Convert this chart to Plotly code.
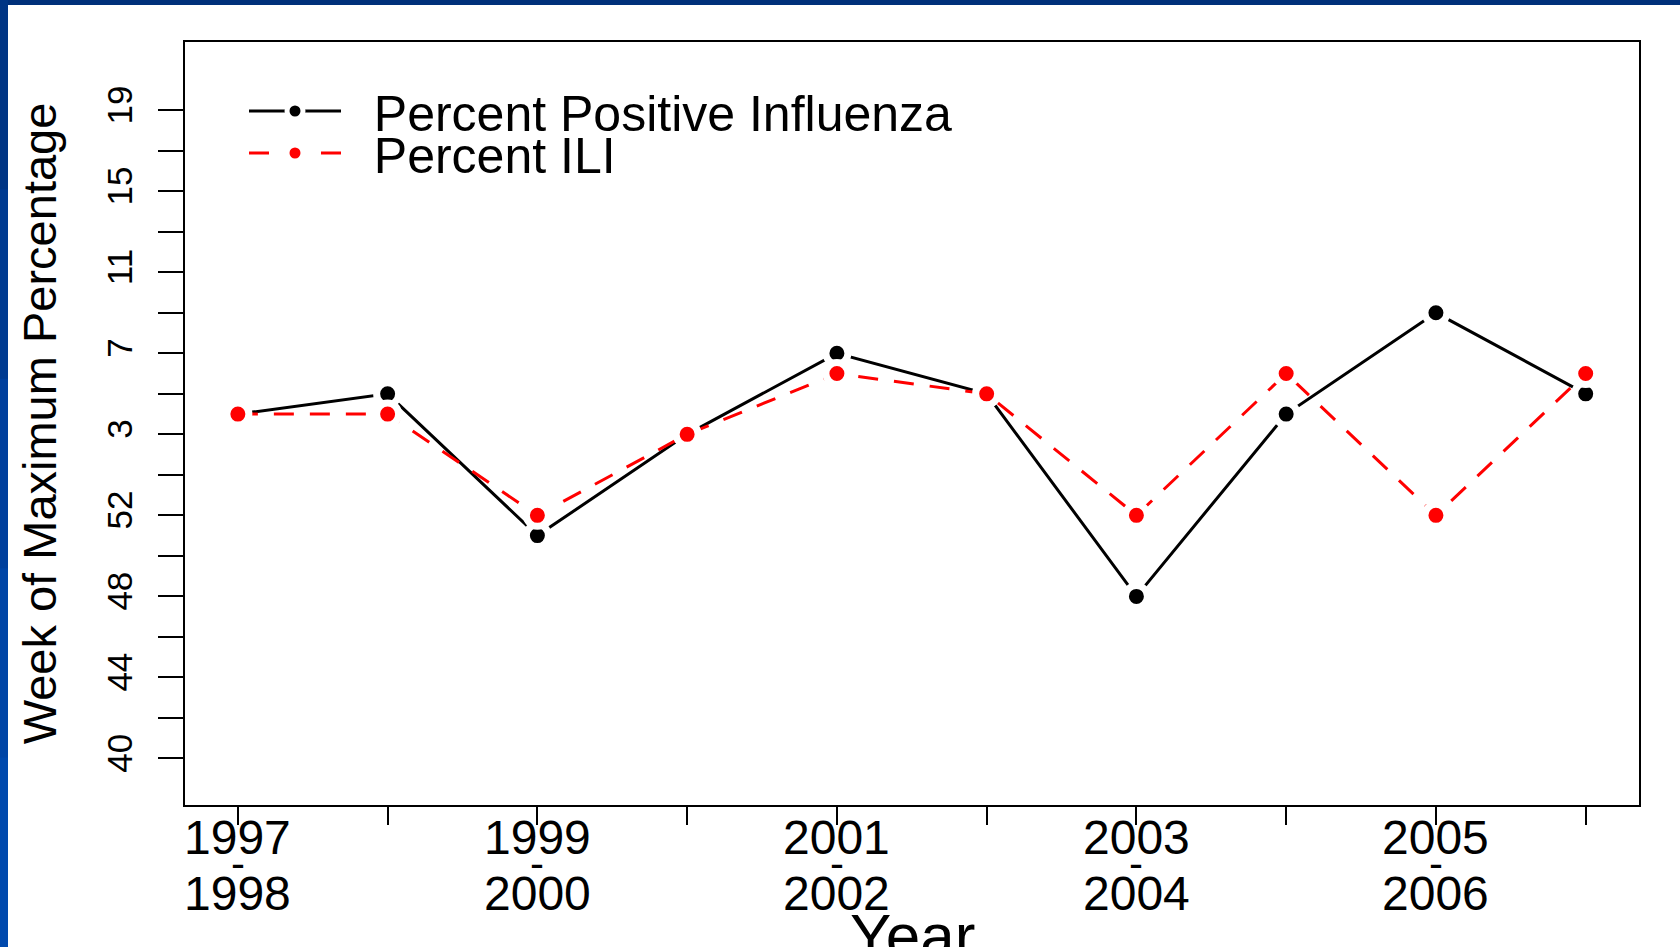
import plotly.graph_objects as go

# seasons on the x axis, week numbers on the y axis
seasons = ["1997-1998", "1998-1999", "1999-2000", "2000-2001", "2001-2002",
           "2002-2003", "2003-2004", "2004-2005", "2005-2006", "2006-2007"]
week_order = [40, 41, 42, 43, 44, 45, 46, 47, 48, 49, 50, 51, 52, 53,
              1, 2, 3, 4, 5, 6, 7, 8, 9, 10, 11, 12, 13, 14, 15, 16, 17, 18, 19]
week_labels = [40, 44, 48, 52, 3, 7, 11, 15, 19]

flu_positive = [4, 5, 51, 3, 7, 5, 48, 4, 9, 5]
ili = [4, 4, 52, 3, 6, 5, 52, 6, 52, 6]

x_labels = [("1997", "1998"), ("1999", "2000"), ("2001", "2002"),
            ("2003", "2004"), ("2005", "2006")]

W, H = 1680, 947
ML, MR, MT, MB = 185, 41, 42, 142
PW, PH = W - ML - MR, H - MT - MB

FONT = "Liberation Sans, Arial, sans-serif"
NBSP = "\u00a0"


def px_x(x):
    return (x - ML) / PW


def px_y(y):
    return (H - MB - y) / PH


fig = go.Figure()

# white marker outline leaves the small gap round each point (R type="b")
fig.add_trace(go.Scatter(
    x=seasons, y=[str(w) for w in flu_positive],
    mode="lines+markers", name=NBSP * 2 + "Percent Positive Influenza",
    line=dict(color="black", width=3),
    marker=dict(color="black", size=22, line=dict(color="white", width=7)),
    legend="legend",
))
fig.add_trace(go.Scatter(
    x=seasons, y=[str(w) for w in ili],
    mode="lines+markers", name=NBSP * 2 + "Percent ILI",
    line=dict(color="#ff0000", width=3, dash="20px,16px"),
    marker=dict(color="#ff0000", size=22, line=dict(color="white", width=7)),
    legend="legend2",
))

# y ticks every two weeks, labels every four
tick_weeks = week_order[::2]
fig.update_yaxes(
    type="category", categoryorder="array", categoryarray=[str(w) for w in week_order],
    range=[-2.3, 35.37],
    tickvals=[str(w) for w in tick_weeks],
    ticktext=[str(w) if w in week_labels else "" for w in tick_weeks],
    tickangle=-90, ticks="outside", ticklen=25, tickwidth=2, tickcolor="black",
    tickfont=dict(family=FONT, size=35, color="black"),
    ticklabelstandoff=12,
    showline=True, linecolor="black", linewidth=2, mirror=True,
    showgrid=False, zeroline=False,
    title=dict(text="Week of Maximum Percentage", standoff=29,
               font=dict(family=FONT, size=47, color="black")),
)
fig.update_xaxes(
    type="category", categoryorder="array", categoryarray=seasons,
    range=[-0.353, 9.356],
    tickvals=seasons, showticklabels=False,
    ticks="outside", ticklen=18, tickwidth=2, tickcolor="black",
    showline=True, linecolor="black", linewidth=2, mirror=True,
    showgrid=False, zeroline=False,
)

# two-line season labels with a dash in between
for first, second in x_labels:
    cat = first + "-" + second
    fig.add_annotation(x=cat, y=px_y(838), xref="x", yref="paper", text=first,
                       showarrow=False, yanchor="middle",
                       font=dict(family=FONT, size=48, color="black"))
    fig.add_annotation(x=cat, y=px_y(863), xref="x", yref="paper", text="-",
                       showarrow=False, yanchor="middle",
                       font=dict(family=FONT, size=42, color="black"))
    fig.add_annotation(x=cat, y=px_y(893), xref="x", yref="paper", text=second,
                       showarrow=False, yanchor="middle",
                       font=dict(family=FONT, size=48, color="black"))

fig.add_annotation(x=0.5, y=px_y(935), xref="paper", yref="paper", text="Year",
                   showarrow=False, yanchor="middle",
                   font=dict(family=FONT, size=62, color="black"))

# slide border
fig.add_shape(type="rect", xref="paper", yref="paper", line_width=0,
              x0=px_x(0), x1=px_x(W), y0=px_y(0), y1=px_y(5), fillcolor="#00307a")
left_cols = ["#003584", "#003b91", "#00409d", "#0045a6", "#0049ad"]
step = H / len(left_cols)
for i, c in enumerate(left_cols):
    fig.add_shape(type="rect", xref="paper", yref="paper", line_width=0,
                  x0=px_x(0), x1=px_x(8), y0=px_y(i * step), y1=px_y((i + 1) * step + 1),
                  fillcolor=c)

legend_style = dict(font=dict(family=FONT, size=50, color="black"),
                    bgcolor="rgba(0,0,0,0)", itemwidth=92,
                    xanchor="left", yanchor="middle", x=px_x(244))
fig.update_layout(
    width=W, height=H,
    margin=dict(l=ML, r=MR, t=MT, b=MB, pad=0),
    paper_bgcolor="white", plot_bgcolor="white",
    showlegend=True,
    legend=dict(y=px_y(111), **legend_style),
    legend2=dict(y=px_y(153), **legend_style),
)

# drop the page margin so the figure sits at the window's corner
fig.write_html("out.html", config={"displayModeBar": False},
               post_script="document.body.style.margin = '0';")
